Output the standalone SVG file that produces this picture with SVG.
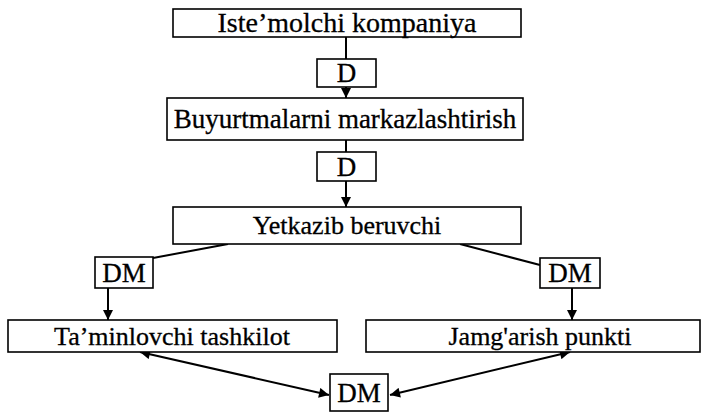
<svg xmlns="http://www.w3.org/2000/svg" width="705" height="416" viewBox="0 0 705 416">
<style>
.box{fill:#fff;stroke:#000;stroke-width:1.6}
.t{font-family:"Liberation Serif","Times New Roman",serif;font-size:26px;fill:#000;stroke:#000;stroke-width:0.3;text-anchor:middle}
.s{font-family:"Liberation Serif","Times New Roman",serif;font-size:27px;fill:#000;stroke:#000;stroke-width:0.3;text-anchor:middle}
.c{stroke:#000;stroke-width:2;fill:none}
</style>
<defs>
<marker id="ah2" viewBox="0 0 10 10" refX="10" refY="5" markerWidth="13" markerHeight="10" orient="auto-start-reverse" markerUnits="userSpaceOnUse">
<path d="M0,0 L10,5 L0,10 z" fill="#000"/>
</marker>
</defs>
<g id="connectors">
<line class="c" x1="346" y1="37" x2="346" y2="59"/>
<line class="c" x1="346" y1="87" x2="346" y2="98" marker-end="url(#ah2)"/>
<line class="c" x1="346" y1="140" x2="346" y2="152"/>
<line class="c" x1="346" y1="181" x2="346" y2="207" marker-end="url(#ah2)"/>
<line class="c" x1="228" y1="244" x2="153" y2="258"/>
<line class="c" x1="460" y1="244" x2="540" y2="265"/>
<line class="c" x1="108" y1="288" x2="108" y2="320" marker-end="url(#ah2)"/>
<line class="c" x1="572" y1="288" x2="572" y2="320" marker-end="url(#ah2)"/>
<line class="c" x1="140" y1="352" x2="329" y2="395" marker-start="url(#ah2)" marker-end="url(#ah2)"/>
<line class="c" x1="570" y1="352" x2="390" y2="395" marker-start="url(#ah2)" marker-end="url(#ah2)"/>
</g>
<g id="iste">
<rect class="box" x="173" y="9" width="348" height="28"/>
<text class="t" x="347" y="32" style="font-size:28px">Iste’molchi kompaniya</text>
</g>
<g id="d1">
<rect class="box" x="317" y="59" width="59" height="28"/>
<text class="s" x="346.5" y="82">D</text>
</g>
<g id="buyurtma">
<rect class="box" x="167" y="98" width="356" height="42"/>
<text class="t" x="345" y="128" style="font-size:27px">Buyurtmalarni markazlashtirish</text>
</g>
<g id="d2">
<rect class="box" x="317" y="152" width="59" height="29"/>
<text class="s" x="346.5" y="176">D</text>
</g>
<g id="yetkazib">
<rect class="box" x="173" y="207" width="348" height="37"/>
<text class="t" x="347" y="234">Yetkazib beruvchi</text>
</g>
<g id="dm-left">
<rect class="box" x="95" y="257" width="58" height="31"/>
<text class="s" x="124" y="282">DM</text>
</g>
<g id="dm-right">
<rect class="box" x="540" y="258" width="60" height="30"/>
<text class="s" x="570" y="282">DM</text>
</g>
<g id="taminlovchi">
<rect class="box" x="8" y="320" width="329" height="32"/>
<text class="t" x="172" y="345">Ta’minlovchi tashkilot</text>
</g>
<g id="jamgarish">
<rect class="box" x="366" y="320" width="334" height="32"/>
<text class="t" x="540" y="345">Jamg'arish punkti</text>
</g>
<g id="dm-bottom">
<rect class="box" x="330" y="374" width="58" height="37"/>
<text class="s" x="359" y="402">DM</text>
</g>
</svg>
